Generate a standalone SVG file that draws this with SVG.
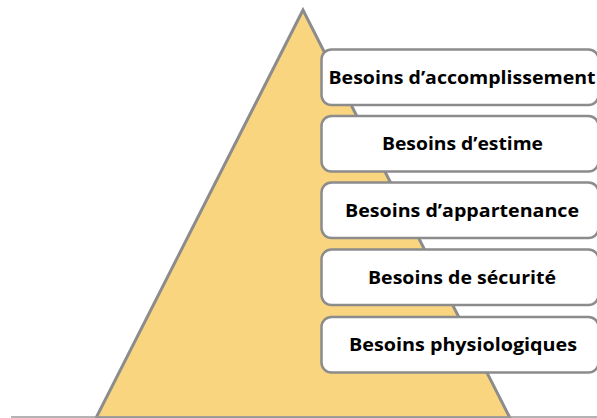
<svg xmlns="http://www.w3.org/2000/svg" width="597" height="418" viewBox="0 0 597 418">
<style>
.box{fill:#ffffff;stroke:#8c8c8c;stroke-width:2.5}
.lbl{font-family:"Open Sans","Liberation Sans",sans-serif;font-weight:bold;font-size:18.5px;fill:#000;text-anchor:middle}
</style>
<rect width="597" height="418" fill="#ffffff"/>
<g id="pyramid">
<polygon points="303,10 96,418 510,418" fill="#fad580" stroke="#8c8c8c" stroke-width="3" stroke-linejoin="miter"/>
<line x1="11" y1="417" x2="597" y2="417" stroke="#9a9a9a" stroke-width="1.5"/>
</g>
<g id="n1"><rect class="box" x="321.5" y="49.5" width="277" height="55.5" rx="10"/><text class="lbl" x="462" y="83.5" textLength="267" lengthAdjust="spacingAndGlyphs">Besoins d’accomplissement</text></g>
<g id="n2"><rect class="box" x="321.5" y="116" width="277" height="55.5" rx="10"/><text class="lbl" x="462.5" y="150" textLength="161" lengthAdjust="spacingAndGlyphs">Besoins d’estime</text></g>
<g id="n3"><rect class="box" x="321.5" y="182.5" width="277" height="55.5" rx="10"/><text class="lbl" x="462" y="216.5" textLength="234" lengthAdjust="spacingAndGlyphs">Besoins d’appartenance</text></g>
<g id="n4"><rect class="box" x="321.5" y="249.5" width="277" height="55.5" rx="10"/><text class="lbl" x="462" y="283.5" textLength="188" lengthAdjust="spacingAndGlyphs">Besoins de sécurité</text></g>
<g id="n5"><rect class="box" x="321.5" y="317" width="277" height="55.5" rx="10"/><text class="lbl" x="463" y="351" textLength="228" lengthAdjust="spacingAndGlyphs">Besoins physiologiques</text></g>
<g id="connectors"></g>
</svg>
